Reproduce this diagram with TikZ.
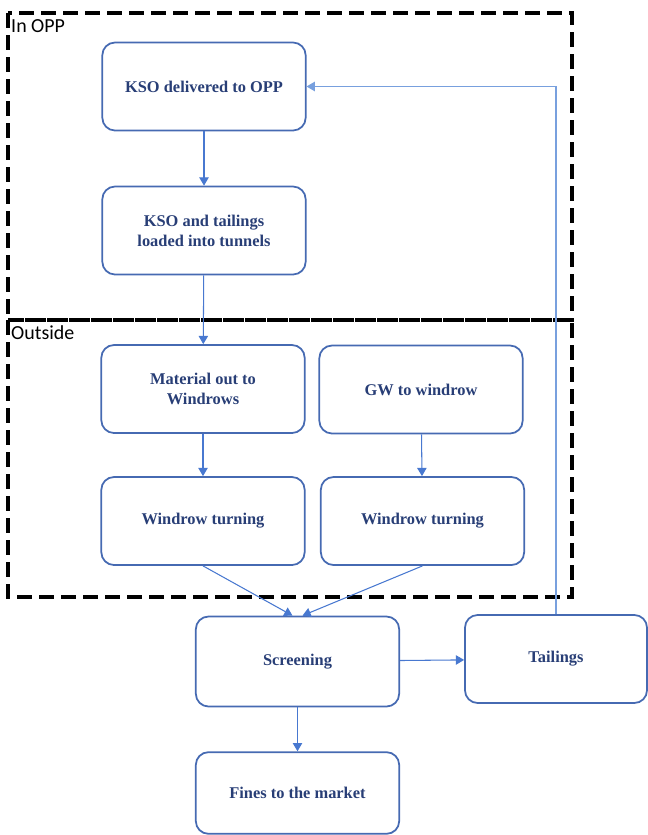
\documentclass[tikz,border=0pt]{standalone}
\usepackage{fontspec}
\setmainfont{Liberation Serif}
\newfontfamily\zonefont{Carlito}
\usepackage{tikz}
\usetikzlibrary{arrows.meta,positioning}
\definecolor{boxblue}{RGB}{70,106,178}
\definecolor{textblue}{RGB}{40,62,118}
\definecolor{flowblue}{RGB}{72,120,208}
\definecolor{loopblue}{RGB}{120,160,222}
\tikzset{
  stage/.style={
    rectangle,
    rounded corners=0.38cm,
    minimum width=6.1cm,
    minimum height=2.64cm,
    align=center,
    draw=boxblue,
    line width=1.5pt,
    text=textblue,
    font=\fontsize{14}{17}\selectfont\bfseries
    },
  zone/.style={
    draw=black,
    line width=3pt,
    dash pattern=on 0.45cm off 0.21cm
    },
  zonelabel/.style={
    anchor=north west,
    inner sep=0pt,
    font=\zonefont\fontsize{17}{17}\selectfont
    },
  flow/.style={draw=flowblue,line width=0.9pt,-{Triangle[width=8pt,length=7pt]}},
}

\begin{document}
\begin{tikzpicture}[
            x = 0.03cm, y = -0.03cm, % one unit = one pixel of the sketch
            shorten > = 0pt
        ]
         \useasboundingbox (0,0) rectangle (648,835);

         % the two zones
         \draw[zone] (8,13) rectangle (572,320);
         \draw[zone] (8,320) rectangle (572,597);
         \node[zonelabel] (inopp) at (11,19) {In OPP};
         \node[zonelabel] (outside) at (11,325) {Outside};

         \node[stage] (deliv) at (204,86.5) {KSO delivered to OPP};
         \node[stage] (loaded) at (204,230.5) {KSO and tailings\\loaded into tunnels};
         \node[stage] (material) at (203,389) {Material out to\\Windrows};
         \node[stage] (turnl) at (203,521) {Windrow turning};
         \node[stage] (gw) at (421,389.5) {GW to windrow};
         \node[stage] (turnr) at (422.5,521) {Windrow turning};
         \node[stage, minimum height=2.7cm] (screen) at (297.5,661.5) {Screening};
         \node[stage, minimum width=5.46cm] (tailings) at (556,659) {Tailings};
         \node[stage, minimum height=2.45cm] (fines) at (297.5,793) {Fines to the market};

         \draw[flow] (deliv) -- (loaded);
         \draw[flow] (loaded) -- (material);
         \draw[flow] (material) -- (turnl);
         \draw[flow] (gw) -- (turnr);
         \draw[flow] (turnl.south) -- ([xshift=-0.15cm]screen.north);
         \draw[flow] (turnr.south) -- ([xshift=0.15cm]screen.north);
         \draw[flow] (screen) -- (tailings);
         \draw[flow] (screen) -- (fines);
         \draw[flow, draw=loopblue] (tailings.north) |- (deliv.east);
  \end{tikzpicture}
\end{document}
